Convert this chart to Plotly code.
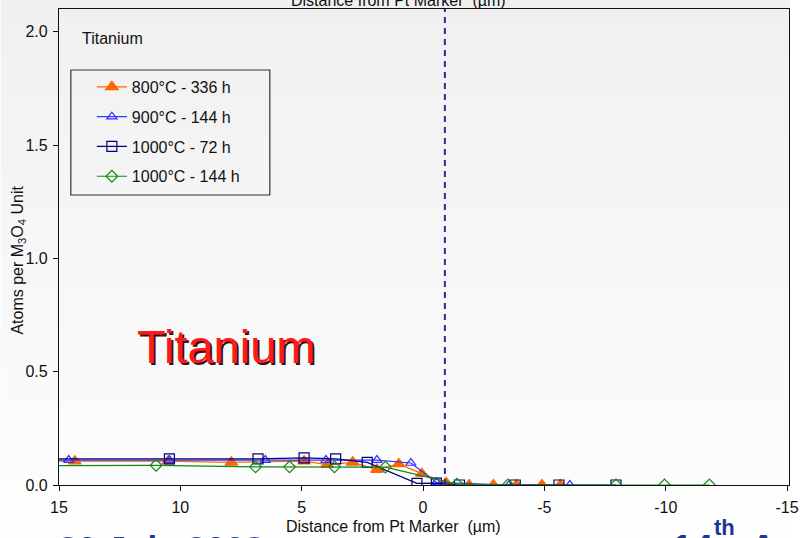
import base64
import struct
import zlib

import plotly.graph_objects as go

# Titanium content across the Pt marker for four oxidation conditions
x_800_336 = [16.0, 14.35, 10.5, 7.9, 4.9, 3.95, 2.9, 1.9, 1.0, 0.05, -0.95, -1.9, -2.9, -3.85, -4.9, -5.65]
y_800_336 = [0.105, 0.105, 0.105, 0.10, 0.105, 0.09, 0.10, 0.068, 0.093, 0.05, 0.01, 0.0, 0.0, 0.0, 0.0, 0.0]

x_900_144 = [16.0, 14.6, 10.45, 6.5, 4.0, 1.9, 0.5, -0.55, -3.55, -6.05]
y_900_144 = [0.11, 0.11, 0.11, 0.11, 0.11, 0.11, 0.097, 0.012, 0.0, 0.0]

x_1000_72 = [16.0, 10.45, 6.8, 4.9, 3.6, 2.3, 0.25, -0.55, -1.5, -3.8, -5.6, -7.95]
y_1000_72 = [0.115, 0.115, 0.115, 0.12, 0.115, 0.10, 0.007, 0.008, 0.0, 0.0, 0.0, 0.0]

x_1000_144 = [16.0, 11.0, 6.9, 5.5, 3.65, 1.55, -1.4, -3.5, -7.95, -9.95, -11.8]
y_1000_144 = [0.085, 0.087, 0.08, 0.08, 0.08, 0.079, 0.004, 0.0, 0.0, 0.0, 0.0]

series_names = ["800°C - 336 h", "900°C - 144 h", "1000°C - 72 h", "1000°C - 144 h"]

# Position of the Pt marker (dashed line)
pt_marker_x = -0.9

x_tickvals = [15, 10, 5, 0, -5, -10, -15]
x_ticktext = ["15", "10", "5", "0", "-5", "-10", "-15"]
y_tickvals = [0, 0.5, 1.0, 1.5, 2.0]
y_ticktext = ["0.0", "0.5", "1.0", "1.5", "2.0"]

FONT = "Liberation Sans, Arial, sans-serif"
FS = 16
FOOTER = "#1f3594"
W, H = 800, 538
M = dict(l=59, r=1, t=9, b=53)


def gradient_png(height, top, bottom):
    """1-pixel-wide vertical gradient as a PNG data URI."""
    rows = b""
    for i in range(height):
        t = i / (height - 1)
        px = bytes(round(a + (b - a) * t) for a, b in zip(top, bottom))
        rows += b"\x00" + px

    def chunk(tag, data):
        c = struct.pack(">I", len(data)) + tag + data
        return c + struct.pack(">I", zlib.crc32(tag + data) & 0xFFFFFFFF)

    png = b"\x89PNG\r\n\x1a\n"
    png += chunk(b"IHDR", struct.pack(">IIBBBBB", 1, height, 8, 2, 0, 0, 0))
    png += chunk(b"IDAT", zlib.compress(rows))
    png += chunk(b"IEND", b"")
    return "data:image/png;base64," + base64.b64encode(png).decode()


fig = go.Figure()

styles = [
    dict(color="#ff6600", symbol="triangle-up", size=11),
    dict(color="#3333ff", symbol="triangle-up-open", size=9),
    dict(color="#000080", symbol="square-open", size=10),
    dict(color="#108a10", symbol="diamond-open", size=9),
]
data = [
    (x_800_336, y_800_336),
    (x_900_144, y_900_144),
    (x_1000_72, y_1000_72),
    (x_1000_144, y_1000_144),
]

for name, (xs, ys), st in zip(series_names, data, styles):
    fig.add_trace(go.Scatter(
        x=xs, y=ys, name=name, legendgroup=name,
        mode="lines+markers",
        line=dict(color=st["color"], width=1.2),
        marker=dict(symbol=st["symbol"], size=st["size"], color=st["color"],
                    line=dict(color=st["color"], width=1.2)),
        cliponaxis=True,
    ))

# Pt marker position
fig.add_shape(type="line", xref="x", yref="paper", x0=pt_marker_x, x1=pt_marker_x,
              y0=0, y1=1, line=dict(color="#2b2b9a", width=2, dash="6px,5px"))

# Legend frame
fig.add_shape(type="rect", xref="paper", yref="paper",
              x0=0.0162, x1=0.2888, y0=0.6092, y1=0.8718,
              line=dict(color="#333333", width=1.2), fillcolor="rgba(0,0,0,0)")

pw = W - M["l"] - M["r"]
ph = H - M["t"] - M["b"]


def px_x(p):
    return (p - M["l"]) / pw


def px_y(p):
    return (H - M["b"] - p) / ph


annotations = [
    dict(text="Titanium", xref="paper", yref="paper", x=px_x(80), y=px_y(38),
         xanchor="left", yanchor="middle", showarrow=False,
         font=dict(family=FONT, size=FS, color="#111111")),
    dict(text="Distance from Pt Marker  (µm)", xref="paper", yref="paper",
         x=px_x(403), y=1, xanchor="center", yanchor="bottom", yshift=-2, showarrow=False,
         font=dict(family=FONT, size=FS, color="#111111")),
    dict(text="Distance from Pt Marker  (µm)", xref="paper", yref="paper",
         x=px_x(398), y=px_y(526), xanchor="center", yanchor="middle", showarrow=False,
         font=dict(family=FONT, size=FS, color="#111111")),
    dict(text="Atoms per M<sub>3</sub>O<sub>4</sub> Unit", xref="paper", yref="paper",
         x=px_x(17), y=px_y(260), textangle=-90, xanchor="center", yanchor="middle",
         showarrow=False, font=dict(family=FONT, size=FS, color="#111111")),
    # Large slide label with shadow
    dict(text="Titanium", xref="paper", yref="paper", x=px_x(228), y=px_y(347),
         xanchor="center", yanchor="middle", xshift=2, yshift=-2, showarrow=False,
         font=dict(family=FONT, size=47, color="#3a1010")),
    dict(text="Titanium", xref="paper", yref="paper", x=px_x(228), y=px_y(347),
         xanchor="center", yanchor="middle", showarrow=False,
         font=dict(family=FONT, size=47, color="#ff1a1a")),
    # Slide footer
    dict(text="<b>30 July 2008</b>", xref="paper", yref="paper", x=px_x(56), y=px_y(527),
         xanchor="left", yanchor="top", showarrow=False,
         font=dict(family=FONT, size=35, color=FOOTER)),
    dict(text="<b>14</b>", xref="paper", yref="paper", x=px_x(678), y=px_y(526),
         xanchor="left", yanchor="top", showarrow=False,
         font=dict(family=FONT, size=37, color=FOOTER)),
    dict(text="<b>th</b>", xref="paper", yref="paper", x=px_x(721), y=px_y(513),
         xanchor="left", yanchor="top", showarrow=False,
         font=dict(family=FONT, size=22, color=FOOTER)),
    dict(text="<b>A</b>", xref="paper", yref="paper", x=px_x(757), y=px_y(526),
         xanchor="left", yanchor="top", showarrow=False,
         font=dict(family=FONT, size=37, color=FOOTER)),
]

fig.update_layout(
    width=W, height=H,
    margin=M,
    paper_bgcolor="#ffffff", plot_bgcolor="rgba(0,0,0,0)",
    images=[dict(source=gradient_png(H, (240, 240, 240), (254, 254, 254)),
                 xref="paper", yref="paper", x=px_x(0), y=px_y(0),
                 sizex=W / pw, sizey=H / ph, sizing="stretch",
                 xanchor="left", yanchor="top", layer="below")],
    font=dict(family=FONT, size=FS, color="#111111"),
    showlegend=True,
    legend=dict(x=0.045, y=0.872, xanchor="left", yanchor="top",
                bgcolor="rgba(0,0,0,0)", borderwidth=0,
                tracegroupgap=6, font=dict(family=FONT, size=FS, color="#111111")),
    annotations=annotations,
    xaxis=dict(range=[15, -15.08], tickvals=x_tickvals, ticktext=x_ticktext,
               showgrid=False, zeroline=False, showline=True, linecolor="#111111",
               linewidth=1.2, mirror=True, ticks="outside", ticklen=5,
               tickcolor="#111111", tickfont=dict(size=FS), ticklabeloverflow="allow",
               ticklabelstandoff=3),
    yaxis=dict(range=[0, 2.1], tickvals=y_tickvals, ticktext=y_ticktext,
               showgrid=False, zeroline=False, showline=True, linecolor="#111111",
               linewidth=1.2, mirror=True, ticks="outside", ticklen=5,
               tickcolor="#111111", tickfont=dict(size=FS), ticklabeloverflow="allow",
               ticklabelstandoff=2),
)

fig.write_html("out.html")
